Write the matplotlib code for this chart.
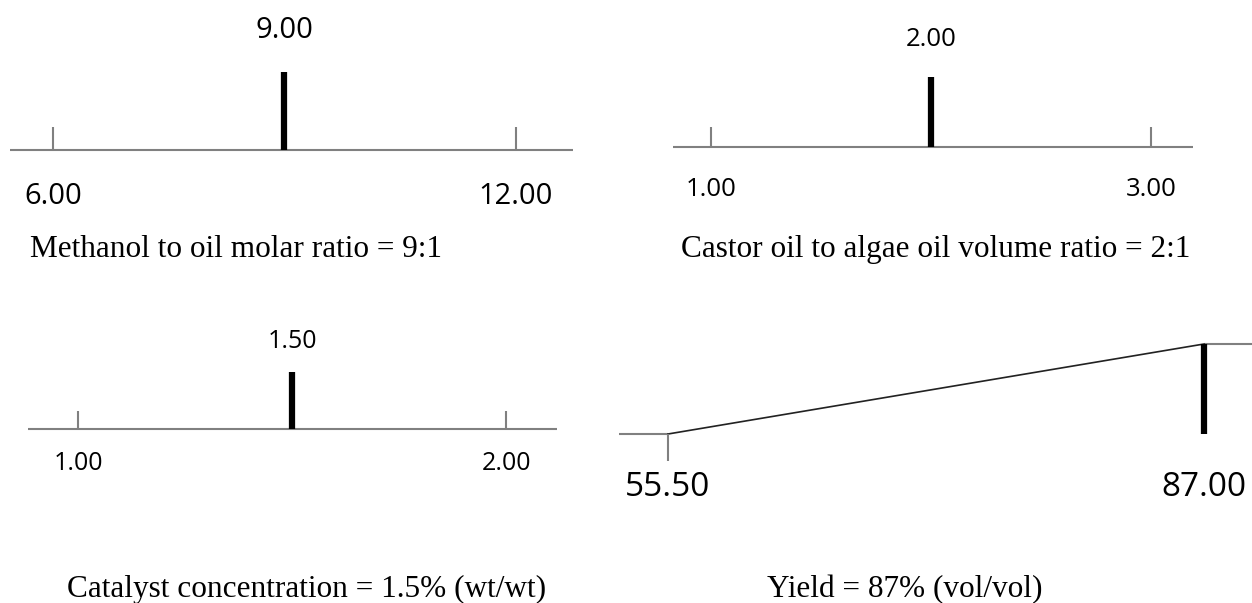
import matplotlib.pyplot as plt

# optimal settings and factor ranges
factor_low = [6.00, 1.00, 1.00]
factor_high = [12.00, 3.00, 2.00]
factor_opt = [9.00, 2.00, 1.50]
captions = ["Methanol to oil molar ratio = 9:1",
            "Castor oil to algae oil volume ratio = 2:1",
            "Catalyst concentration = 1.5% (wt/wt)"]

yield_low = 55.50
yield_high = 87.00
yield_opt = 87.00
yield_caption = "Yield = 87% (vol/vol)"

W, H = 1252, 603
fig = plt.figure(figsize=(W / 100, H / 100), dpi=100)

NUM_FONT = ["Open Sans", "DejaVu Sans"]
CAP_FONT = ["Liberation Serif", "DejaVu Serif"]
CAP_SIZE = 22.5
GREY = "#808080"


def make_panel(x0, x1, y_top, y_bot, lo, hi, px_lo, px_hi):
    # axes in pixel rows vertically; x limits put lo/hi at px_lo/px_hi
    ax = fig.add_axes([x0 / W, 1 - y_bot / H, (x1 - x0) / W, (y_bot - y_top) / H])
    per_px = (hi - lo) / (px_hi - px_lo)
    ax.set_xlim(lo - (px_lo - x0) * per_px, hi + (x1 - px_hi) * per_px)
    ax.set_ylim(y_bot, y_top)
    ax.axis("off")
    return ax


def factor_panel(ax, lo, hi, opt, base, tick_top, mark_top, opt_y, lab_y, size):
    ax.axhline(base, color=GREY, lw=1.5)
    ax.vlines([lo, hi], tick_top, base, color=GREY, lw=1.5)
    ax.vlines(opt, mark_top, base, color="black", lw=4.5)
    ax.text(opt, opt_y, f"{opt:.2f}", ha="center", va="center",
            fontsize=size, family=NUM_FONT)
    for v in (lo, hi):
        ax.text(v, lab_y, f"{v:.2f}", ha="center", va="center",
                fontsize=size, family=NUM_FONT)


def caption(cx, base_y, s):
    fig.text(cx / W, 1 - base_y / H, s, ha="center", va="baseline",
             fontsize=CAP_SIZE, family=CAP_FONT)


# methanol ratio
ax1 = make_panel(10, 573, 0, 300, factor_low[0], factor_high[0], 53, 516)
factor_panel(ax1, factor_low[0], factor_high[0], factor_opt[0],
             150, 127, 72, 30, 196, 21)
caption(236, 257, captions[0])

# castor/algae ratio
ax2 = make_panel(673, 1193, 0, 300, factor_low[1], factor_high[1], 711, 1151)
factor_panel(ax2, factor_low[1], factor_high[1], factor_opt[1],
             147, 127, 77, 39, 190, 18.5)
caption(936, 257, captions[1])

# catalyst
ax3 = make_panel(28, 557, 300, 603, factor_low[2], factor_high[2], 78, 506)
factor_panel(ax3, factor_low[2], factor_high[2], factor_opt[2],
             429, 411, 372, 342, 464, 18)
caption(307, 597, captions[2])

# yield desirability: 0 below low, rising to 1 at high
ax4 = make_panel(619, 1252, 300, 603, yield_low, yield_high, 668, 1204)
d0, d1 = 434, 344
xl = ax4.get_xlim()
ax4.plot([xl[0], yield_low], [d0, d0], color=GREY, lw=1.5, solid_capstyle="butt")
ax4.plot([yield_high, xl[1]], [d1, d1], color=GREY, lw=1.5, solid_capstyle="butt")
ax4.plot([yield_low, yield_high], [d0, d1], color="#222222", lw=1.2)
ax4.vlines(yield_low, d0, 461, color=GREY, lw=1.5)
ax4.vlines(yield_opt, d1, d0, color="black", lw=4.5)
for v in (yield_low, yield_high):
    ax4.text(v, 487, f"{v:.2f}", ha="center", va="center",
             fontsize=24, family=NUM_FONT)
caption(905, 597, yield_caption)

fig.savefig("out.png", dpi=100, facecolor="white")
